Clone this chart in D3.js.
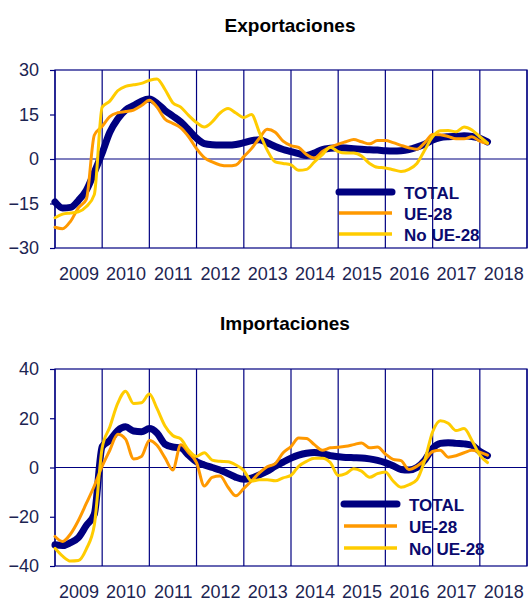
<!DOCTYPE html>
<html>
<head>
<meta charset="utf-8">
<script src="https://cdn.jsdelivr.net/npm/d3@7"></script>
<style>
body { margin: 0; background: #fff; }
text { font-family: "Liberation Sans", Arial, sans-serif; }
</style>
</head>
<body>
<div id="main-container"></div>
<script>
var width = 529,
    height = 601

var years = [2009, 2010, 2011, 2012, 2013, 2014, 2015, 2016, 2017, 2018]
var seriesNames = ["TOTAL", "UE-28", "No UE-28"]
var seriesColors = ["#000080", "#FF9900", "#FFCC00"]
var seriesWidths = [7, 3, 3]

var expTicks = [-30, -15, 0, 15, 30]
var impTicks = [-40, -20, 0, 20, 40]

// values every two months, Jan 2009 .. Mar 2018
var expTotal = [-14.5,-16.5,-16.3,-14,-10.5,-4.5,2,9,13.5,16.5,18,19.5,20.2,18.8,16.4,14.5,12.5,9.8,7,5.2,4.8,4.7,4.7,4.9,5.5,6.2,6.5,5.5,4.2,3.2,2.5,1.8,1.2,2.0,3.2,3.6,3.8,3.7,3.5,3.3,3.1,3.0,2.8,2.7,2.8,3.2,4,5,6.4,7.2,7.5,7.6,7.8,7.6,7,5.8]
var expUE = [-23,-23.5,-21,-16.5,-13.5,8,11,14.3,15.6,16,16.5,18,19.8,17.5,13.5,12,10.5,7.5,3.5,0.5,-1,-2,-2.3,-2,0.8,3.5,7,10,9,6,4.5,3.9,1.5,0.3,2.5,4,5,5.8,6.6,5.8,5.1,6.2,6.2,5.5,4.6,3.8,3.3,5.5,8.3,8.2,7.6,6.8,6.8,7.5,6,5.2]
var expNoUE = [-19.8,-18.6,-18.2,-17.8,-16,-12,17.5,19.5,23,24.5,25,25.5,26.5,27,23.5,19,17.5,14.7,12.3,10.8,12.5,15.5,17,15.5,14,15,9,3,-1,-1.5,-2,-3.8,-3.5,-1,1.5,4,2.5,2,2,1,-1.5,-2.8,-3,-3.6,-4.2,-3.5,-1.5,3,7.5,9.5,9.6,9.2,10.8,9.8,7.5,5.4]

var impTotal = [-31.4,-31.7,-30.5,-28.5,-23.5,-19,8.5,11,15,16.5,14.8,14.5,15.8,14,9.5,8.3,8,5,2.3,1,0,-1,-2.5,-4,-4.8,-4.3,-3,-1.5,0.5,2.2,3.8,5,5.8,6.1,5.6,4.8,4.4,4.1,4,3.9,3.5,2.9,2,0.7,-0.8,-1,0,3,7.8,9.8,10.1,9.8,9.6,9,6.5,4.8]
var impUE = [-28,-30,-27,-21.5,-14.5,-7.5,0.5,7,13.5,11.5,3.5,4.5,11,9,4,-1,9.2,6,2,-7.5,-4,-3.5,-8,-11.5,-8.5,-5.5,-2.2,0.3,1.6,6,8.5,12,11.8,9.3,7,8,8.2,8.6,9.3,10,8,8.3,5.5,3.3,2.8,-0.8,0.5,3,6.5,7,4.2,4.8,6,7,6.2,5]
var impNoUE = [-32.8,-36,-38,-37.8,-33,-23.5,8,16.4,26,31,26,26.3,29.8,24,17,13,11.6,7,4.5,6,3,2.5,2.3,1,-1.2,-5.5,-5,-5,-5.4,-4.2,-3.2,0.5,2.5,3.8,3.8,2,-3.2,-2.5,-0.5,-1.5,-4,-2.5,-1.8,-5.5,-8,-7,-5,3,14.5,19,18,15,15.8,11,5,2]

var months = d3.range(expTotal.length).map(function(i){
  return new Date(2009, i*2, 1)
})

var svg = d3.select("#main-container").append("svg")
  .attr("width", width)
  .attr("height", height)

var x = d3.scaleTime()
  .domain([new Date(2009, 0, 1), new Date(2019, 0, 1)])
  .range([55, 527])

function drawPanel(title, titleX, titleY, top, bottom, ticks, series, legX, legY, legStep) {
  var y = d3.scaleLinear()
    .domain([ticks[0], ticks[ticks.length-1]])
    .range([bottom, top])

  var g = svg.append("g")

  g.append("text")
    .attr("x", titleX)
    .attr("y", titleY)
    .attr("text-anchor", "middle")
    .attr("font-size", "19px")
    .attr("font-weight", "bold")
    .attr("fill", "#000")
    .text(title)

  // vertical year grid
  g.selectAll(".vgrid")
    .data(d3.timeYear.range(new Date(2009, 0, 1), new Date(2019, 0, 2)))
    .enter()
    .append("line")
      .attr("x1", function(d){ return x(d) })
      .attr("x2", function(d){ return x(d) })
      .attr("y1", top)
      .attr("y2", bottom)
      .attr("stroke", "#000080")
      .attr("stroke-width", 1.2)

  g.append("line")
    .attr("x1", 55).attr("x2", 527)
    .attr("y1", y(0)).attr("y2", y(0))
    .attr("stroke", "#000080")
    .attr("stroke-width", 1.2)

  g.append("rect")
    .attr("x", 55).attr("y", top)
    .attr("width", 472).attr("height", bottom - top)
    .attr("fill", "none")
    .attr("stroke", "#000080")
    .attr("stroke-width", 1.2)

  var yAxis = g.append("g")
    .attr("transform", "translate(55,0)")
    .call(d3.axisLeft(y).tickValues(ticks).tickSize(5).tickPadding(11))
  yAxis.select(".domain").remove()
  yAxis.selectAll("line").attr("stroke", "#000080").attr("stroke-width", 1.2)
  yAxis.selectAll("text")
    .attr("font-size", "18px")
    .attr("font-family", "'Liberation Sans', Arial, sans-serif")
    .attr("fill", "#1c2452")

  var xAxis = g.append("g")
    .attr("transform", "translate(0," + bottom + ")")
    .call(d3.axisBottom(x)
      .tickValues(years.map(function(yr){ return new Date(yr, 6, 1) }))
      .tickFormat(d3.timeFormat("%Y"))
      .tickSize(0)
      .tickPadding(19))
  xAxis.select(".domain").remove()
  xAxis.selectAll("text")
    .attr("font-size", "18px")
    .attr("font-family", "'Liberation Sans', Arial, sans-serif")
    .attr("fill", "#1c2452")

  var line = d3.line()
    .x(function(d, i){ return x(months[i]) })
    .y(function(d){ return y(d) })
    .curve(d3.curveMonotoneX)

  g.selectAll(".series")
    .data(series)
    .enter()
    .append("path")
      .attr("d", function(d){ return line(d) })
      .attr("fill", "none")
      .attr("stroke", function(d, i){ return seriesColors[i] })
      .attr("stroke-width", function(d, i){ return seriesWidths[i] })
      .attr("stroke-linejoin", "round")
      .attr("stroke-linecap", "round")

  var leg = g.selectAll(".leg")
    .data(seriesNames)
    .enter()
    .append("g")
      .attr("transform", function(d, i){ return "translate(" + legX + "," + (legY + i*legStep) + ")" })

  leg.append("line")
    .attr("x1", 0).attr("x2", 53)
    .attr("stroke", function(d, i){ return seriesColors[i] })
    .attr("stroke-width", function(d, i){ return i == 0 ? 7 : 3.5 })
    .attr("stroke-linecap", function(d, i){ return i == 0 ? "round" : "butt" })

  leg.append("text")
    .attr("x", 65)
    .attr("y", 7)
    .attr("font-size", "17px")
    .attr("font-weight", "bold")
    .attr("fill", "#0a0a6e")
    .text(function(d){ return d })
}

drawPanel("Exportaciones", 290, 32, 70, 248, expTicks, [expTotal, expUE, expNoUE], 339, 192, 21)
drawPanel("Importaciones", 285, 330, 369, 566, impTicks, [impTotal, impUE, impNoUE], 344, 504, 22)
</script>
</body>
</html>
